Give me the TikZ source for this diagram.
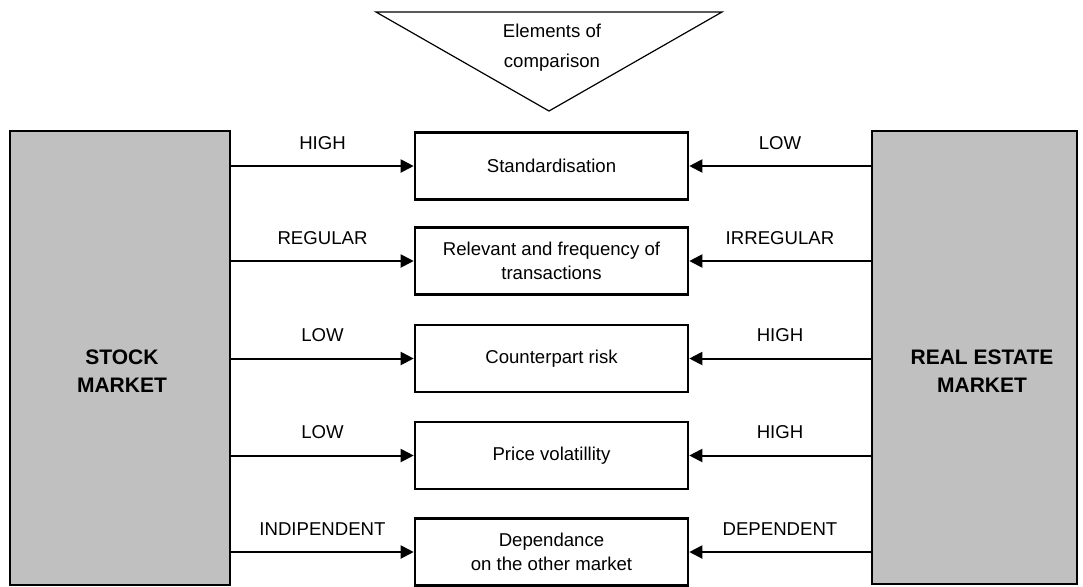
\documentclass[tikz,border=0pt]{standalone}
\usepackage{fontspec}
\setmainfont{Liberation Sans}
\usetikzlibrary{arrows.meta,positioning}
\definecolor{marketgray}{HTML}{C0C0C0}

\tikzset{
	market/.style={draw, fill=marketgray, line width=1.3pt, inner sep=0pt, minimum height=227pt},
	markettext/.style={align=center, font=\fontsize{10.5}{14}\selectfont\bfseries},
	element/.style={draw, line width=1.3pt, inner sep=0pt, minimum width=136.5pt, minimum height=33.5pt, align=center, font=\fontsize{9.3}{12}\selectfont},
	grade/.style={font=\fontsize{9.3}{12}\selectfont},
	toelem/.style={-{Triangle[length=6.5pt,width=6.5pt]}, line width=1pt},
}

\begin{document}
\begin{tikzpicture}[x=0.5pt, y=-0.5pt]
	\useasboundingbox (0,0) rectangle (1083,586);
	
	% heading triangle
	\draw[line width=0.6pt] (376,12) -- (722,12) -- (549,111) -- cycle;
	\node[align=center, font=\fontsize{9.3}{15}\selectfont] (heading) at (552,48) {Elements of\\comparison};
	
	% the two markets
	\node[market, minimum width=110pt] (stock) at (120,358) {};
	\node[markettext] (stocktxt) at (122,371) {STOCK\\MARKET};
	\node[market, minimum width=102.5pt, minimum height=226.5pt] (realestate) at (974.5,357.5) {};
	\node[markettext] (realtxt) at (982,371) {REAL ESTATE\\MARKET};
	
	% elements
	\node[element] (std) at (551.5,166) {Standardisation};
	\node[element] (freq) at (551.5,261) {Relevant and frequency of\\transactions};
	\node[element] (risk) at (551.5,358.5) {Counterpart risk};
	\node[element] (vol) at (551.5,455.5) {Price volatillity};
	\node[element] (dep) at (551.5,552) {Dependance\\on the other market};
	
	\draw[toelem] (stock.east |- std.west) -- (std.west) node[midway, above=4.5pt, grade] (l1) {HIGH};
	\draw[toelem] (stock.east |- freq.west) -- (freq.west) node[midway, above=4.5pt, grade] (l2) {REGULAR};
	\draw[toelem] (stock.east |- risk.west) -- (risk.west) node[midway, above=4.5pt, grade] (l3) {LOW};
	\draw[toelem] (stock.east |- vol.west) -- (vol.west) node[midway, above=4.5pt, grade] (l4) {LOW};
	\draw[toelem] (stock.east |- dep.west) -- (dep.west) node[midway, above=4.5pt, grade] (l5) {INDIPENDENT};
	
	\draw[toelem] (realestate.west |- std.east) -- (std.east) node[midway, above=4.5pt, grade] (r1) {LOW};
	\draw[toelem] (realestate.west |- freq.east) -- (freq.east) node[midway, above=4.5pt, grade] (r2) {IRREGULAR};
	\draw[toelem] (realestate.west |- risk.east) -- (risk.east) node[midway, above=4.5pt, grade] (r3) {HIGH};
	\draw[toelem] (realestate.west |- vol.east) -- (vol.east) node[midway, above=4.5pt, grade] (r4) {HIGH};
	\draw[toelem] (realestate.west |- dep.east) -- (dep.east) node[midway, above=4.5pt, grade] (r5) {DEPENDENT};
\end{tikzpicture}
\end{document}
